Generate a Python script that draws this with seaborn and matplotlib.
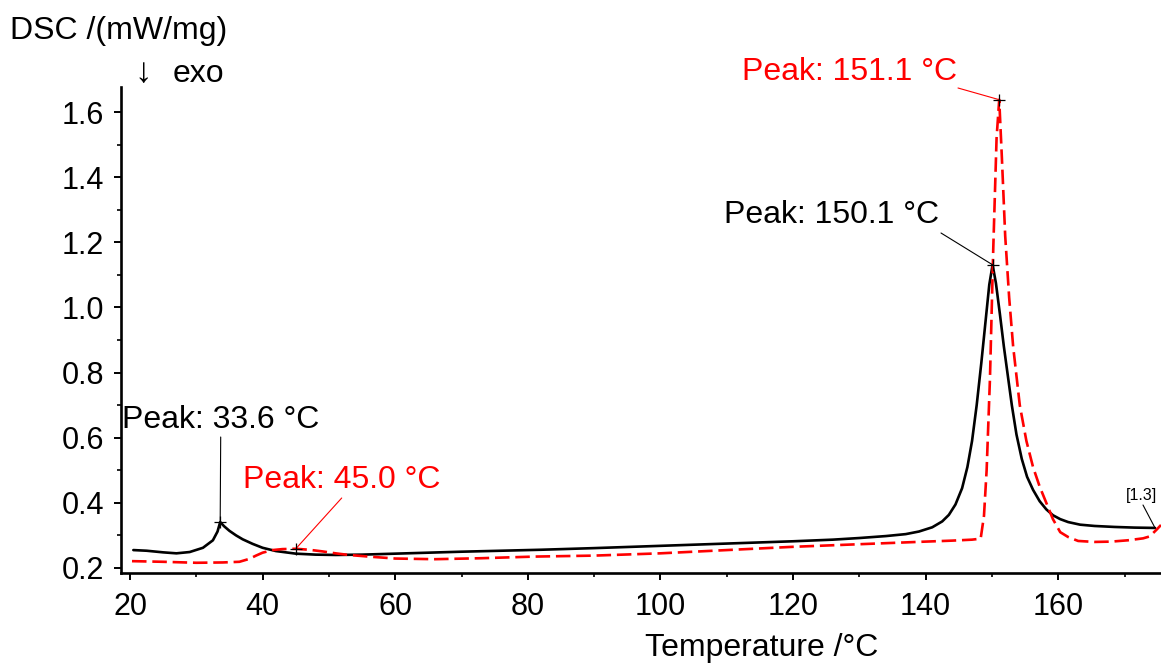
import numpy as np
import pandas as pd
import matplotlib
matplotlib.use("Agg")
import matplotlib.pyplot as plt
from matplotlib.ticker import MultipleLocator, FormatStrFormatter
import seaborn as sns

# ---- DSC heating curves -------------------------------------------------
# sample 1 (solid black)
black_temp = [20.5, 22.5, 25, 27, 29, 31, 32.5, 33.2, 33.6, 34.2, 35, 36, 37,
              38.5, 40, 42, 45, 48, 51, 55, 60, 65, 70, 76, 82, 90, 100, 110,
              120, 126, 130, 134, 137, 139, 141, 142.5, 143.5, 144.5, 145.5,
              146.3, 147, 147.7, 148.4, 149, 149.6, 150.1, 150.6, 151.2, 151.8,
              152.4, 153, 153.7, 154.5, 155.3, 156.2, 157.2, 158.2, 159.2,
              160.3, 161.5, 163.3, 165.5, 168.5, 171.5, 174.6]
black_dsc = [0.255, 0.253, 0.248, 0.245, 0.249, 0.262, 0.285, 0.312, 0.341,
             0.328, 0.314, 0.300, 0.288, 0.274, 0.262, 0.252, 0.244, 0.241,
             0.240, 0.241, 0.244, 0.247, 0.250, 0.253, 0.256, 0.261, 0.268,
             0.275, 0.282, 0.287, 0.292, 0.298, 0.304, 0.312, 0.325, 0.343,
             0.363, 0.395, 0.445, 0.51, 0.59, 0.70, 0.83, 0.95, 1.07, 1.131,
             1.075, 0.98, 0.88, 0.79, 0.70, 0.61, 0.535, 0.48, 0.44, 0.405,
             0.38, 0.362, 0.35, 0.341, 0.333, 0.329, 0.326, 0.324, 0.323]

# sample 2 (dashed red)
red_temp = [20.3, 25, 30, 34, 36.5, 38, 39, 40, 41.5, 43, 45.0, 47, 49, 51, 53,
            56, 60, 66, 73, 81, 90, 100, 110, 120, 130, 140, 144, 147, 148.3,
            148.8, 149.2, 149.7, 150.2, 150.7, 151.1, 151.5, 152.0, 152.6,
            153.2, 154.2, 155.2, 156.2, 157.2, 158.2, 159.2, 160.3, 161.5,
            163.0, 165.5, 168.0, 170.5, 172.8, 173.8, 174.8, 175.5]
red_dsc = [0.221, 0.219, 0.216, 0.217, 0.219, 0.228, 0.238, 0.247, 0.255,
           0.258, 0.259, 0.256, 0.251, 0.245, 0.240, 0.235, 0.229, 0.227,
           0.230, 0.235, 0.238, 0.245, 0.255, 0.265, 0.273, 0.281, 0.284,
           0.287, 0.290, 0.36, 0.50, 0.78, 1.18, 1.52, 1.638, 1.46, 1.22,
           1.03, 0.88, 0.70, 0.59, 0.51, 0.45, 0.40, 0.35, 0.31, 0.295, 0.283,
           0.280, 0.281, 0.285, 0.291, 0.297, 0.317, 0.332]

# peak annotations: (temperature, series)
black_peaks = [33.6, 150.1]
red_peaks = [45.0, 151.1]
end_label = "[1.3]"

# ---- figure ---------------------------------------------------------------
W, H = 1161, 664
sns.set_style("ticks")
plt.rcParams["font.family"] = ["Liberation Sans", "DejaVu Sans"]
plt.rcParams["mathtext.default"] = "regular"
plt.rcParams["text.color"] = "black"

fig = plt.figure(figsize=(W / 100, H / 100), dpi=100)
ax = fig.add_axes([121 / W, (H - 573) / H, 1040 / W, (573 - 87) / H])

df_black = pd.DataFrame({"Temperature": black_temp, "DSC": black_dsc})
df_red = pd.DataFrame({"Temperature": red_temp, "DSC": red_dsc})

sns.lineplot(data=df_black, x="Temperature", y="DSC", ax=ax, color="black",
             linewidth=1.9, estimator=None, sort=False)
sns.lineplot(data=df_red, x="Temperature", y="DSC", ax=ax, color="#ff0000",
             linewidth=1.9, linestyle=(0, (5.5, 2.2)), estimator=None,
             sort=False)

ax.set_xlim(18.64, 175.5)
ax.set_ylim(0.1846, 1.677)
ax.set_xlabel("")
ax.set_ylabel("")

ax.xaxis.set_major_locator(MultipleLocator(20))
ax.xaxis.set_minor_locator(MultipleLocator(10))
ax.yaxis.set_major_locator(MultipleLocator(0.2))
ax.yaxis.set_minor_locator(MultipleLocator(0.1))
ax.yaxis.set_major_formatter(FormatStrFormatter("%.1f"))

for side in ("top", "right"):
    ax.spines[side].set_visible(False)
for side in ("left", "bottom"):
    ax.spines[side].set_linewidth(1.9)
    ax.spines[side].set_color("black")

ax.tick_params(axis="both", which="major", direction="out", length=5,
               width=1.4, color="black", labelsize=22, labelcolor="black")
ax.tick_params(axis="both", which="minor", direction="out", length=3,
               width=1.2, color="black")
ax.tick_params(axis="x", which="major", pad=9)
ax.tick_params(axis="y", which="major", pad=7)


def fig_xy(px, py):
    """Pixel position (from top-left) to figure fraction."""
    return px / W, 1 - py / H


def peak_value(temps, vals, t):
    return float(np.interp(t, temps, vals))


def mark_peak(t, temps, vals, color, text_px, line_px):
    y = peak_value(temps, vals, t)
    ax.plot([t], [y], marker="+", markersize=9, markeredgewidth=0.9,
            color="black", clip_on=False, zorder=5)
    ax.annotate("", xy=(t, y), xycoords="data",
                xytext=fig_xy(*line_px), textcoords="figure fraction",
                arrowprops=dict(arrowstyle="-", color=color, lw=0.8,
                                shrinkA=0, shrinkB=0))
    fig.text(*fig_xy(*text_px), f"Peak: {t:.1f} °C", color=color,
             fontsize=23, ha="left", va="baseline")


mark_peak(black_peaks[0], black_temp, black_dsc, "black", (122, 428), (220.7, 437))
mark_peak(black_peaks[1], black_temp, black_dsc, "black", (724, 223), (941, 233))
mark_peak(red_peaks[0], red_temp, red_dsc, "#ff0000", (243, 488), (341.7, 498))
mark_peak(red_peaks[1], red_temp, red_dsc, "#ff0000", (742, 80), (958, 88))

# end-of-segment marker on the solid curve
ax.annotate("", xy=(black_temp[-1], black_dsc[-1]), xycoords="data",
            xytext=fig_xy(1143, 505), textcoords="figure fraction",
            arrowprops=dict(arrowstyle="-", color="black", lw=0.8,
                            shrinkA=0, shrinkB=0))
fig.text(*fig_xy(1126, 500), end_label, color="black", fontsize=11.5,
         ha="left", va="baseline")

# axis titles
fig.text(*fig_xy(10, 39), "DSC /(mW/mg)", fontsize=23, ha="left",
         va="baseline", color="black")
fig.text(*fig_xy(134, 82), "\u2193", fontsize=25, ha="left", va="baseline",
         color="black")
fig.text(*fig_xy(173, 82), "exo", fontsize=23, ha="left", va="baseline",
         color="black")
fig.text(*fig_xy(645, 656), "Temperature /°C", fontsize=23, ha="left",
         va="baseline", color="black")

fig.savefig("out.png", dpi=100, facecolor="white")
